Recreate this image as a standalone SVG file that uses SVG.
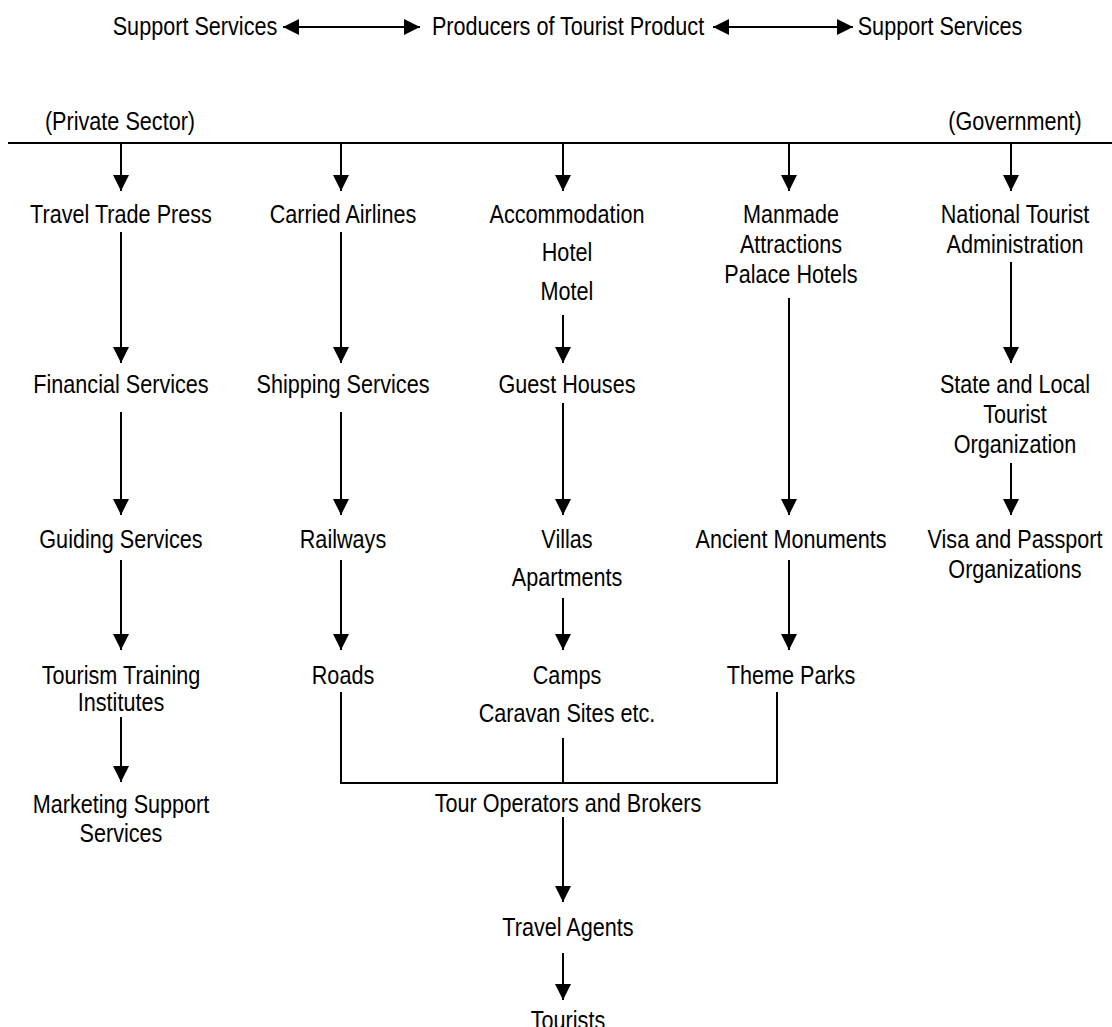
<svg xmlns="http://www.w3.org/2000/svg" width="1112" height="1027" viewBox="0 0 1112 1027">
  <style>
    text {
      font-family: "Liberation Sans", Arial, sans-serif;
      font-size: 25px;
      fill: #000;
      text-anchor: middle;
      transform-box: fill-box;
      transform-origin: center;
      transform: scaleX(0.865);
    }
    .ln { stroke: #000; stroke-width: 2; fill: none; }
    .ar { stroke: #000; stroke-width: 2; fill: none; marker-end: url(#head); }
    .dbl { stroke: #000; stroke-width: 2; fill: none; marker-start: url(#head); marker-end: url(#head); }
  </style>
  <defs>
    <marker id="head" markerUnits="userSpaceOnUse" markerWidth="16" markerHeight="16" viewBox="0 0 16 16" refX="16" refY="8" orient="auto-start-reverse">
      <path d="M0,0 L16,8 L0,16 Z" fill="#000"/>
    </marker>
  </defs>

  <rect width="1112" height="1027" fill="#fff"/>

  <!-- connectors -->
  <g id="connectors">
    <!-- header double arrows -->
    <line class="dbl" x1="283" y1="27" x2="420" y2="27"/>
    <line class="dbl" x1="713" y1="27" x2="853" y2="27"/>
    <!-- sector bar -->
    <line class="ln" x1="8" y1="143" x2="1112" y2="143"/>
    <!-- drops from the bar -->
    <line class="ar" x1="121" y1="143" x2="121" y2="191"/>
    <line class="ar" x1="341" y1="143" x2="341" y2="191"/>
    <line class="ar" x1="563" y1="143" x2="563" y2="191"/>
    <line class="ar" x1="789" y1="143" x2="789" y2="191"/>
    <line class="ar" x1="1011" y1="143" x2="1011" y2="191"/>
    <!-- private sector column -->
    <line class="ar" x1="121" y1="232" x2="121" y2="363"/>
    <line class="ar" x1="121" y1="412" x2="121" y2="515"/>
    <line class="ar" x1="121" y1="560" x2="121" y2="650"/>
    <line class="ar" x1="121" y1="717" x2="121" y2="782"/>
    <!-- transport column -->
    <line class="ar" x1="341" y1="232" x2="341" y2="363"/>
    <line class="ar" x1="341" y1="412" x2="341" y2="515"/>
    <line class="ar" x1="341" y1="560" x2="341" y2="650"/>
    <!-- accommodation column -->
    <line class="ar" x1="563" y1="315" x2="563" y2="363"/>
    <line class="ar" x1="563" y1="403" x2="563" y2="515"/>
    <line class="ar" x1="563" y1="598" x2="563" y2="650"/>
    <!-- attractions column -->
    <line class="ar" x1="789" y1="298" x2="789" y2="515"/>
    <line class="ar" x1="789" y1="560" x2="789" y2="650"/>
    <!-- government column -->
    <line class="ar" x1="1011" y1="262" x2="1011" y2="363"/>
    <line class="ar" x1="1011" y1="463" x2="1011" y2="515"/>
    <!-- merge into tour operators -->
    <path class="ln" d="M341,692 V783 H777 V692"/>
    <line class="ln" x1="563" y1="738" x2="563" y2="783"/>
    <!-- distribution chain -->
    <line class="ar" x1="563" y1="817" x2="563" y2="902"/>
    <line class="ar" x1="563" y1="953" x2="563" y2="1000"/>
  </g>

  <!-- header -->
  <g id="n-support-left"><text x="195" y="35">Support Services</text></g>
  <g id="n-producers"><text x="568" y="35">Producers of Tourist Product</text></g>
  <g id="n-support-right"><text x="940" y="35">Support Services</text></g>
  <g id="n-private"><text x="120" y="130">(Private Sector)</text></g>
  <g id="n-government"><text x="1015" y="130">(Government)</text></g>

  <!-- private sector column -->
  <g id="n-travel-trade-press"><text x="121" y="223">Travel Trade Press</text></g>
  <g id="n-financial"><text x="121" y="393">Financial Services</text></g>
  <g id="n-guiding"><text x="121" y="548">Guiding Services</text></g>
  <g id="n-training"><text x="121" y="684">Tourism Training</text><text x="121" y="711">Institutes</text></g>
  <g id="n-marketing"><text x="121" y="813">Marketing Support</text><text x="121" y="842">Services</text></g>

  <!-- transport column -->
  <g id="n-airlines"><text x="343" y="223">Carried Airlines</text></g>
  <g id="n-shipping"><text x="343" y="393">Shipping Services</text></g>
  <g id="n-railways"><text x="343" y="548">Railways</text></g>
  <g id="n-roads"><text x="343" y="684">Roads</text></g>

  <!-- accommodation column -->
  <g id="n-accommodation"><text x="567" y="223">Accommodation</text><text x="567" y="261">Hotel</text><text x="567" y="300">Motel</text></g>
  <g id="n-guest-houses"><text x="567" y="393">Guest Houses</text></g>
  <g id="n-villas"><text x="567" y="548">Villas</text><text x="567" y="586">Apartments</text></g>
  <g id="n-camps"><text x="567" y="684">Camps</text><text x="567" y="722">Caravan Sites etc.</text></g>

  <!-- attractions column -->
  <g id="n-manmade"><text x="791" y="223">Manmade</text><text x="791" y="253">Attractions</text><text x="791" y="283">Palace Hotels</text></g>
  <g id="n-monuments"><text x="791" y="548">Ancient Monuments</text></g>
  <g id="n-theme-parks"><text x="791" y="684">Theme Parks</text></g>

  <!-- government column -->
  <g id="n-nta"><text x="1015" y="223">National Tourist</text><text x="1015" y="253">Administration</text></g>
  <g id="n-state-local"><text x="1015" y="393">State and Local</text><text x="1015" y="423">Tourist</text><text x="1015" y="453">Organization</text></g>
  <g id="n-visa"><text x="1015" y="548">Visa and Passport</text><text x="1015" y="578">Organizations</text></g>

  <!-- distribution chain -->
  <g id="n-tour-operators"><text x="568" y="812">Tour Operators and Brokers</text></g>
  <g id="n-travel-agents"><text x="568" y="936">Travel Agents</text></g>
  <g id="n-tourists"><text x="568" y="1029">Tourists</text></g>
</svg>
